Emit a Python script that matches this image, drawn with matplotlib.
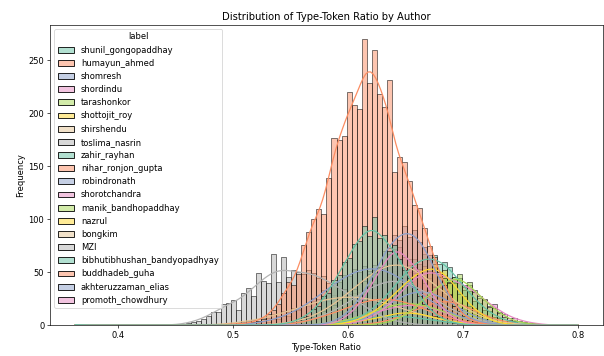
import numpy as np
import pandas as pd
import matplotlib
matplotlib.use("Agg")
import matplotlib.pyplot as plt
import seaborn as sns

# Type-token ratio histogram counts per author, on a common grid of 100 bins.
# Each author: first bin index and the counts from that bin onward.
bin_lo, bin_hi, n_bins = 0.3628, 0.8000, 100

shunil_start = 40
shunil_counts = [1, 1, 2, 3, 5, 8, 9, 15, 18, 27, 30, 43, 47, 60, 63, 77, 79, 94, 84, 102,
                 82, 85, 70, 76, 62, 52, 44, 36, 27, 20, 15, 9, 8, 5, 3, 2, 1, 1]
humayun_start = 30
humayun_counts = [1, 1, 1, 1, 2, 3, 4, 6, 10, 14, 20, 30, 41, 38, 48, 76, 88, 100, 110, 105,
                  139, 177, 175, 179, 220, 208, 204, 270, 229, 260, 218, 206, 231, 145, 159, 154, 136, 113, 111, 92,
                  75, 64, 48, 38, 28, 18, 13, 7, 5, 3, 2, 1]
shomresh_start = 48
shomresh_counts = [1, 1, 2, 3, 7, 8, 12, 20, 22, 33, 37, 52, 55, 70, 73, 85, 80, 94, 83, 90,
                   78, 74, 66, 50, 45, 31, 29, 18, 16, 9, 7, 4, 3, 2, 1, 1]
shordindu_start = 50
shordindu_counts = [1, 2, 3, 7, 10, 13, 21, 24, 36, 40, 54, 56, 67, 72, 74, 64, 62, 55, 53, 40,
                    33, 25, 20, 13, 9, 6, 4, 2, 1, 1]
tarashonkor_start = 59
tarashonkor_counts = [1, 1, 2, 2, 5, 6, 9, 11, 17, 18, 26, 27, 36, 35, 44, 40, 45, 48, 38, 41,
                      31, 27, 25, 17, 16, 11, 8, 5, 4, 2, 2, 1, 1]
shottojit_start = 51
shottojit_counts = [1, 1, 2, 2, 5, 4, 8, 9, 13, 15, 21, 23, 31, 33, 39, 42, 49, 47, 56, 51,
                    58, 50, 52, 41, 40, 29, 27, 18, 16, 10, 9, 4, 3, 2, 1, 1]
shirshendu_start = 39
shirshendu_counts = [1, 1, 2, 2, 3, 4, 5, 7, 8, 12, 13, 17, 19, 24, 26, 32, 34, 40, 42, 48,
                     49, 55, 54, 59, 56, 61, 55, 57, 51, 50, 45, 44, 37, 36, 29, 28, 21, 21, 15, 14,
                     10, 9, 6, 6, 3, 3, 2, 2, 1, 1]
toslima_start = 21
toslima_counts = [1, 2, 3, 4, 6, 9, 12, 12, 20, 21, 24, 14, 30, 35, 27, 49, 42, 40, 67, 41,
                  64, 45, 52, 50, 48, 52, 49, 44, 46, 40, 38, 35, 34, 29, 25, 21, 18, 14, 11, 9,
                  7, 5, 4, 3, 2, 1, 1]
zahir_start = 50
zahir_counts = [1, 0, 2, 3, 3, 6, 6, 10, 11, 18, 19, 27, 29, 38, 40, 51, 50, 62, 58, 67,
                61, 66, 58, 60, 55, 45, 44, 33, 32, 23, 21, 14, 13, 8, 7, 4, 4, 2, 1, 1, 1]
nihar_start = 42
nihar_counts = [1, 1, 3, 2, 4, 6, 6, 9, 9, 13, 12, 16, 15, 21, 19, 24, 21, 27, 23, 28,
                24, 22, 26, 20, 23, 17, 19, 13, 14, 9, 11, 7, 8, 4, 5, 2, 3, 2, 1, 1]
robindronath_start = 33
robindronath_counts = [1, 1, 1, 2, 4, 3, 6, 6, 9, 9, 13, 14, 19, 20, 26, 25, 33, 34, 40, 41,
                       47, 46, 53, 50, 56, 51, 57, 52, 55, 48, 51, 43, 44, 36, 37, 29, 28, 22, 22, 16,
                       16, 11, 10, 7, 7, 4, 4, 2, 3, 1, 1, 1]
shorotchandra_start = 54
shorotchandra_counts = [1, 2, 3, 5, 5, 9, 12, 14, 20, 22, 29, 37, 39, 45, 47, 52, 48, 55, 46, 47,
                        44, 41, 40, 36, 38, 33, 26, 24, 18, 20, 12, 10, 7, 7, 4, 3, 2, 2, 1]
manik_start = 48
manik_counts = [1, 0, 2, 3, 2, 5, 4, 7, 7, 11, 9, 14, 13, 18, 16, 21, 18, 24, 19, 23,
                17, 21, 16, 17, 13, 14, 9, 10, 6, 7, 4, 4, 2, 3, 1, 1, 1]
nazrul_start = 51
nazrul_counts = [1, 1, 2, 2, 3, 3, 5, 4, 6, 8, 7, 10, 11, 12, 13, 11, 12, 10, 11, 8,
                 7, 5, 6, 3, 3, 2, 2, 1, 1]
bongkim_start = 28
bongkim_counts = [1, 0, 2, 1, 3, 3, 4, 5, 4, 7, 7, 10, 9, 13, 12, 16, 15, 19, 18, 23,
                  21, 26, 23, 28, 24, 29, 25, 30, 24, 28, 23, 26, 21, 23, 19, 19, 15, 16, 12, 13,
                  9, 10, 7, 7, 4, 5, 3, 3, 2, 2, 1, 1, 1]
mzi_start = 41
mzi_counts = [1, 1, 1, 3, 2, 5, 5, 8, 8, 12, 13, 17, 17, 24, 22, 31, 30, 38, 34, 42,
              38, 45, 40, 46, 38, 42, 35, 37, 30, 31, 23, 23, 17, 17, 12, 12, 8, 8, 5, 4,
              3, 2, 2, 1, 1]
bibhuti_start = 48
bibhuti_counts = [1, 1, 1, 2, 2, 3, 3, 4, 5, 6, 6, 8, 7, 9, 8, 10, 8, 9, 7, 8,
                  6, 6, 5, 4, 4, 3, 2, 2, 1, 1, 1, 0, 1]
buddhadeb_start = 57
buddhadeb_counts = [1, 1, 1, 3, 3, 5, 5, 8, 8, 13, 12, 18, 16, 21, 19, 25, 22, 24, 20, 22,
                    17, 17, 13, 12, 8, 8, 5, 4, 3, 2, 2, 1, 1]
akhteruzzaman_start = 52
akhteruzzaman_counts = [1, 1, 2, 3, 4, 6, 8, 11, 13, 17, 19, 24, 25, 29, 29, 33, 31, 34, 30, 30,
                        26, 27, 21, 20, 15, 13, 10, 9, 6, 4, 3, 2, 1]
promoth_start = 48
promoth_counts = [1, 1, 1, 2, 3, 3, 5, 5, 7, 9, 9, 12, 12, 15, 15, 18, 17, 20, 18, 21,
                  18, 19, 16, 16, 13, 12, 10, 9, 7, 6, 4, 4, 3, 2, 1, 1, 1]

# extreme single texts at both ends of the range
outlier_labels = ["shunil_gongopaddhay", "bibhutibhushan_bandyopadhyay"]
outlier_values = [0.3628, 0.8000]

authors = [
    ("shunil_gongopaddhay", shunil_start, shunil_counts),
    ("humayun_ahmed", humayun_start, humayun_counts),
    ("shomresh", shomresh_start, shomresh_counts),
    ("shordindu", shordindu_start, shordindu_counts),
    ("tarashonkor", tarashonkor_start, tarashonkor_counts),
    ("shottojit_roy", shottojit_start, shottojit_counts),
    ("shirshendu", shirshendu_start, shirshendu_counts),
    ("toslima_nasrin", toslima_start, toslima_counts),
    ("zahir_rayhan", zahir_start, zahir_counts),
    ("nihar_ronjon_gupta", nihar_start, nihar_counts),
    ("robindronath", robindronath_start, robindronath_counts),
    ("shorotchandra", shorotchandra_start, shorotchandra_counts),
    ("manik_bandhopaddhay", manik_start, manik_counts),
    ("nazrul", nazrul_start, nazrul_counts),
    ("bongkim", bongkim_start, bongkim_counts),
    ("MZI", mzi_start, mzi_counts),
    ("bibhutibhushan_bandyopadhyay", bibhuti_start, bibhuti_counts),
    ("buddhadeb_guha", buddhadeb_start, buddhadeb_counts),
    ("akhteruzzaman_elias", akhteruzzaman_start, akhteruzzaman_counts),
    ("promoth_chowdhury", promoth_start, promoth_counts),
]
label_order = [a[0] for a in authors]

edges = np.linspace(bin_lo, bin_hi, n_bins + 1)
centers = (edges[:-1] + edges[1:]) / 2

# expand the binned counts back into one row per text
labels, values = [], []
for name, start, counts in authors:
    for k, c in enumerate(counts):
        labels += [name] * c
        values += [centers[start + k]] * c
labels += outlier_labels
values += outlier_values
df = pd.DataFrame({"label": labels, "ttr": values})

fig = plt.figure(figsize=(604 / 60, 356 / 60), dpi=60)
ax = fig.add_axes([0.083, 0.087, 0.915, 0.843])

sns.histplot(data=df, x="ttr", hue="label", hue_order=label_order, bins=edges,
             kde=True, palette="Set2", ax=ax)
sns.move_legend(ax, "upper left")

ax.set_title("Distribution of Type-Token Ratio by Author")
ax.set_xlabel("Type-Token Ratio")
ax.set_ylabel("Frequency")

fig.savefig("out.png", dpi=60)
